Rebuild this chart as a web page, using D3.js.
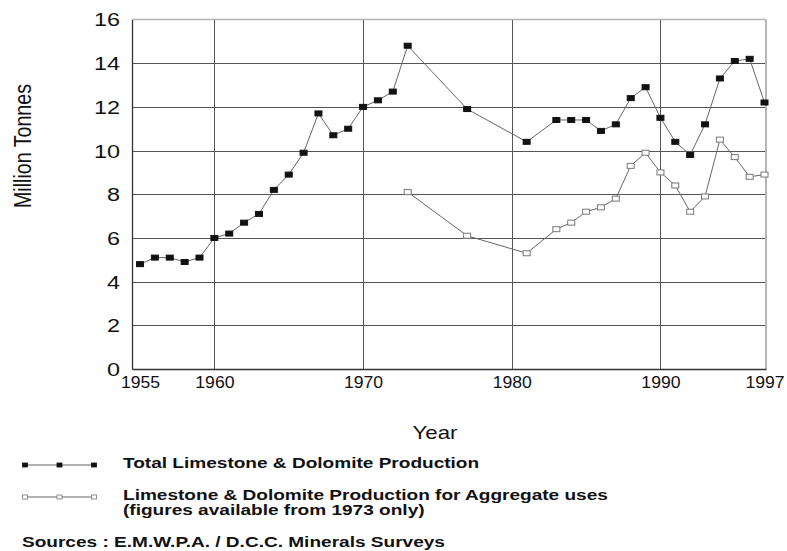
<!DOCTYPE html>
<html>
<head>
<meta charset="utf-8">
<script src="https://cdn.jsdelivr.net/npm/d3@7"></script>
<style>
    body { margin: 0; background: #fff; }
    svg { display: block; font-family: "Liberation Sans", Arial, sans-serif; }
</style>
</head>
<body>
<div id="chart"></div>
<script>
'use strict';

// years with a reading for the total series (gaps 1974-76, 1978-80, 1982)
let totalYears = [1955, 1956, 1957, 1958, 1959, 1960, 1961, 1962, 1963, 1964, 1965, 1966, 1967,
    1968, 1969, 1970, 1971, 1972, 1973, 1977, 1981, 1983, 1984, 1985, 1986, 1987, 1988, 1989,
    1990, 1991, 1992, 1993, 1994, 1995, 1996, 1997];
let totalValues = [4.8, 5.1, 5.1, 4.9, 5.1, 6.0, 6.2, 6.7, 7.1, 8.2, 8.9, 9.9, 11.7,
    10.7, 11.0, 12.0, 12.3, 12.7, 14.8, 11.9, 10.4, 11.4, 11.4, 11.4, 10.9, 11.2, 12.4, 12.9,
    11.5, 10.4, 9.8, 11.2, 13.3, 14.1, 14.2, 12.2];

let aggregateYears = [1973, 1977, 1981, 1983, 1984, 1985, 1986, 1987, 1988, 1989,
    1990, 1991, 1992, 1993, 1994, 1995, 1996, 1997];
let aggregateValues = [8.1, 6.1, 5.3, 6.4, 6.7, 7.2, 7.4, 7.8, 9.3, 9.9,
    9.0, 8.4, 7.2, 7.9, 10.5, 9.7, 8.8, 8.9];

let xTickValues = [1955, 1960, 1970, 1980, 1990, 1997];
let xGridValues = [1960, 1970, 1980, 1990];
let yTickValues = [0, 2, 4, 6, 8, 10, 12, 14, 16];

let legendLabels = [
    ['Total Limestone & Dolomite Production'],
    ['Limestone & Dolomite Production for Aggregate uses', '(figures available from 1973 only)']
];
let sourceText = 'Sources : E.M.W.P.A. / D.C.C. Minerals Surveys';

let conf = {
    width: 787,
    height: 551,
    left: 132,
    right: 766,
    top: 19.5,
    bottom: 369,
    markerW: 7,
    markerH: 5
};

// the original picture is stretched sideways, so text gets widened to match
function stretch(sel, factor) {
    sel.each(function() {
        let len = this.getComputedTextLength();
        d3.select(this)
            .attr('textLength', len * factor)
            .attr('lengthAdjust', 'spacingAndGlyphs');
    });
}

let svg = d3.select('#chart').append('svg')
    .attr('width', conf.width)
    .attr('height', conf.height);

let x = d3.scaleLinear()
    .domain([1954.46, 1997.1])
    .range([conf.left, conf.right]);
let y = d3.scaleLinear()
    .domain([0, 16])
    .range([conf.bottom, conf.top]);

// grid
let grid = svg.append('g');
grid.selectAll('.hgrid').data(yTickValues.filter(function(d) { return d > 0 && d < 16; }))
    .enter().append('line')
    .attr('class', 'hgrid')
    .attr('x1', conf.left).attr('x2', conf.right)
    .attr('y1', function(d) { return Math.round(y(d)) + 0.5; })
    .attr('y2', function(d) { return Math.round(y(d)) + 0.5; })
    .attr('stroke', '#555').attr('stroke-width', 1);
grid.selectAll('.vgrid').data(xGridValues)
    .enter().append('line')
    .attr('class', 'vgrid')
    .attr('y1', conf.top).attr('y2', conf.bottom)
    .attr('x1', function(d) { return Math.round(x(d)) + 0.5; })
    .attr('x2', function(d) { return Math.round(x(d)) + 0.5; })
    .attr('stroke', '#555').attr('stroke-width', 1);

// top and right frame are drawn lighter than the axes
grid.append('line')
    .attr('x1', conf.left).attr('x2', conf.right)
    .attr('y1', conf.top).attr('y2', conf.top)
    .attr('stroke', '#b5b5b5').attr('stroke-width', 1.5);
grid.append('line')
    .attr('x1', conf.right).attr('x2', conf.right)
    .attr('y1', conf.top).attr('y2', conf.bottom)
    .attr('stroke', '#b5b5b5').attr('stroke-width', 2);

// axes
let yAxis = svg.append('g')
    .attr('transform', 'translate(' + conf.left + ',0)')
    .call(d3.axisLeft(y).tickValues(yTickValues).tickSize(0).tickPadding(12));
yAxis.select('.domain').attr('stroke', '#333').attr('stroke-width', 1.3);
yAxis.selectAll('text')
    .attr('font-size', 18).attr('fill', '#111')
    .attr('font-family', '"Liberation Sans", Arial, sans-serif')
    .attr('dy', '0.36em');
stretch(yAxis.selectAll('text'), 1.3);

let xAxis = svg.append('g')
    .attr('transform', 'translate(0,' + conf.bottom + ')')
    .call(d3.axisBottom(x).tickValues(xTickValues).tickFormat(d3.format('d')).tickSize(0).tickPadding(8));
xAxis.select('.domain').attr('stroke', '#333').attr('stroke-width', 1.3);
xAxis.selectAll('text')
    .attr('font-size', 16).attr('fill', '#111')
    .attr('font-family', '"Liberation Sans", Arial, sans-serif');
stretch(xAxis.selectAll('text'), 1.1);

// axis titles
svg.append('text')
    .attr('transform', 'translate(31,146) rotate(-90)')
    .attr('text-anchor', 'middle')
    .attr('font-size', 23)
    .attr('fill', '#111')
    .attr('textLength', 124)
    .attr('lengthAdjust', 'spacingAndGlyphs')
    .text('Million Tonnes');

let yearLabel = svg.append('text')
    .attr('x', 435).attr('y', 439)
    .attr('text-anchor', 'middle')
    .attr('font-size', 19)
    .attr('fill', '#111')
    .text('Year');
stretch(yearLabel, 1.17);

// series
let line = d3.line()
    .x(function(d) { return x(d[0]); })
    .y(function(d) { return y(d[1]); });

let series = [
    {years: totalYears, values: totalValues, fill: '#111', stroke: '#111'},
    {years: aggregateYears, values: aggregateValues, fill: '#fff', stroke: '#777'}
];

series.forEach(function(s) {
    let pts = d3.zip(s.years, s.values);
    svg.append('path')
        .datum(pts)
        .attr('d', line)
        .attr('fill', 'none')
        .attr('stroke', '#666')
        .attr('stroke-width', 1);
    svg.selectAll(null).data(pts)
        .enter().append('rect')
        .attr('x', function(d) { return x(d[0]) - conf.markerW / 2; })
        .attr('y', function(d) { return y(d[1]) - conf.markerH / 2; })
        .attr('width', conf.markerW)
        .attr('height', conf.markerH)
        .attr('fill', s.fill)
        .attr('stroke', s.stroke)
        .attr('stroke-width', 1);
});

// legend
let legendY = [465, 497];
legendLabels.forEach(function(lines, i) {
    let g = svg.append('g').attr('transform', 'translate(0,' + legendY[i] + ')');
    g.append('line')
        .attr('x1', 25).attr('x2', 94)
        .attr('stroke', '#666').attr('stroke-width', 1);
    [25, 59.5, 94].forEach(function(mx) {
        g.append('rect')
            .attr('x', mx - 2.5).attr('y', -2)
            .attr('width', 5).attr('height', 4)
            .attr('fill', series[i].fill)
            .attr('stroke', series[i].stroke)
            .attr('stroke-width', 0.8);
    });
    lines.forEach(function(txt, j) {
        let t = g.append('text')
            .attr('x', 123).attr('y', 3 + j * 15)
            .attr('font-size', 14)
            .attr('font-weight', 'bold')
            .attr('fill', '#111')
            .text(txt);
        stretch(t, 1.36);
    });
});

let src = svg.append('text')
    .attr('x', 22).attr('y', 547)
    .attr('font-size', 14)
    .attr('font-weight', 'bold')
    .attr('fill', '#111')
    .text(sourceText);
stretch(src, 1.36);
</script>
</body>
</html>
